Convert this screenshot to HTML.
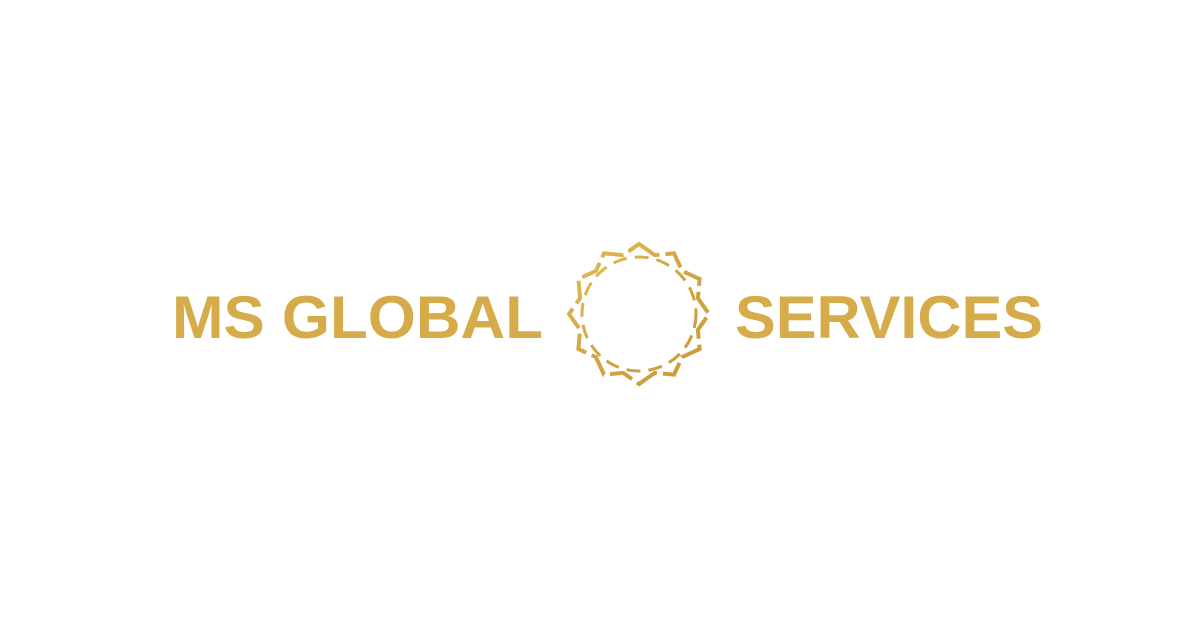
<!DOCTYPE html>
<html><head><meta charset="utf-8"><style>
html,body{margin:0;padding:0;background:#fff;width:1200px;height:630px;overflow:hidden}
</style></head><body>
<svg width="1200" height="630" viewBox="0 0 1200 630">
<defs>
<linearGradient id="gold" x1="0" y1="0" x2="1" y2="1">
<stop offset="0" stop-color="#e2bc5a"/><stop offset="0.5" stop-color="#d2a443"/><stop offset="1" stop-color="#c99a3c"/>
</linearGradient>
</defs>
<text x="172" y="338" textLength="371" lengthAdjust="spacingAndGlyphs" font-family="Liberation Sans, sans-serif" font-weight="bold" font-size="60" fill="#d6ab4a">MS GLOBAL</text>
<text x="735" y="338" textLength="308" lengthAdjust="spacingAndGlyphs" font-family="Liberation Sans, sans-serif" font-weight="bold" font-size="60" fill="#d6ab4a">SERVICES</text>
<g transform="translate(639,314)" fill="none" stroke="url(#gold)">
<polygon id="star" stroke-width="4" stroke-dasharray="24 6" points=""/>
<circle r="57" stroke-width="3" stroke-dasharray="14 8"/>
</g>
</svg>
<script>
var pts=[];
for(var i=0;i<24;i++){var a=i*Math.PI/12-Math.PI/2;var r=(i%2==0)?70:61;pts.push((r*Math.cos(a)).toFixed(1)+','+(r*Math.sin(a)).toFixed(1));}
document.getElementById('star').setAttribute('points',pts.join(' '));
</script>
</body></html>
